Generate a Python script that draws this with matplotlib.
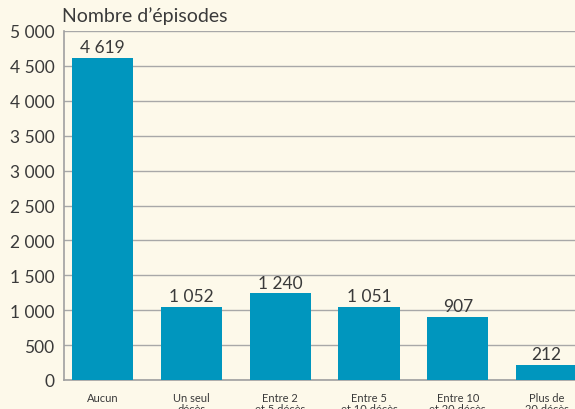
import matplotlib
matplotlib.use("Agg")
import matplotlib.pyplot as plt

plt.rcParams['font.family'] = ['Lato', 'DejaVu Sans']

categories = ["Aucun", "Un seul\ndécès", "Entre 2\net 5 décès", "Entre 5\net 10 décès",
              "Entre 10\net 20 décès", "Plus de\n20 décès"]
values = [4619, 1052, 1240, 1051, 907, 212]
yticks = [0, 500, 1000, 1500, 2000, 2500, 3000, 3500, 4000, 4500, 5000]


def fr(n):
    s = f"{n:,}".replace(",", " ")
    return s


bg = '#fdf9ea'
txt = '#3a3a3a'
fig = plt.figure(figsize=(5.75, 4.1), dpi=100, facecolor=bg)
ax = fig.add_axes([64 / 575, 29 / 410, 1 - 64 / 575, 349 / 410])
ax.set_facecolor(bg)

x = range(len(values))
bars = ax.bar(x, values, width=0.69, color='#0096be', zorder=3)
for xi, v in zip(x, values):
    ax.text(xi, v + 40, fr(v), ha='center', va='bottom', fontsize=12.5, color=txt)

ax.set_xlim(-0.434, 5.32)
ax.set_ylim(0, 5000)
ax.set_yticks(yticks)
ax.set_yticklabels([fr(t) for t in yticks], fontsize=12.5, color=txt)
ax.set_xticks(list(x))
ax.set_xticklabels(categories, fontsize=8, color=txt, linespacing=1.0)
ax.tick_params(axis='both', length=0)
ax.tick_params(axis='x', pad=9)
ax.tick_params(axis='y', pad=7)

ax.grid(axis='y', color='#a8a8a8', linewidth=1, zorder=0)
for s in ['top', 'right']:
    ax.spines[s].set_visible(False)
for s in ['left', 'bottom']:
    ax.spines[s].set_color('#a0a0a0')
    ax.spines[s].set_linewidth(1.2)

fig.text(62 / 575, 1 - 16 / 410, "Nombre d’épisodes", fontsize=14, color=txt,
         ha='left', va='center')

fig.savefig('out.png', dpi=100, facecolor=bg)
